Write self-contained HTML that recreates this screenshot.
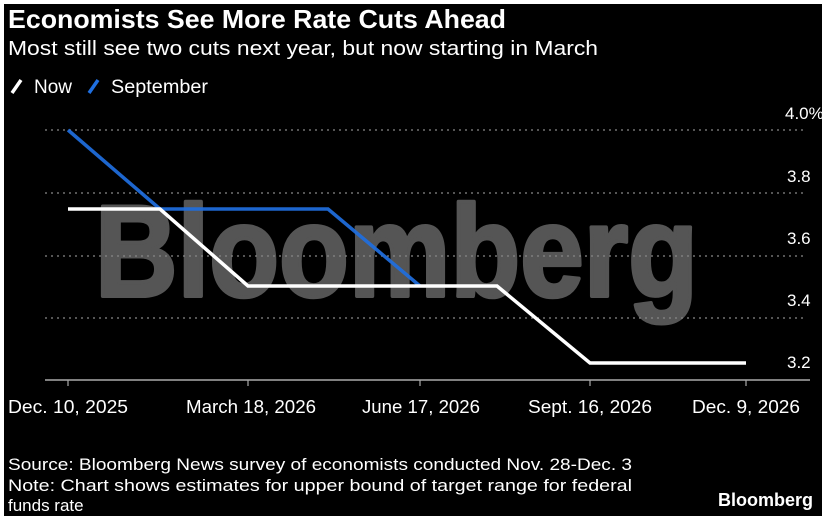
<!DOCTYPE html>
<html><head><meta charset="utf-8"><style>
html,body{margin:0;padding:0;background:#fff;width:832px;height:524px;overflow:hidden}
svg{display:block}
text{font-family:"Liberation Sans",sans-serif;fill:#fff}
</style></head><body>
<svg width="832" height="524" viewBox="0 0 832 524">
<rect x="4" y="4" width="818" height="512" fill="#000"/>
<text x="8" y="28" font-size="26" font-weight="bold" textLength="498" lengthAdjust="spacingAndGlyphs">Economists See More Rate Cuts Ahead</text>
<text x="8" y="55" font-size="20" textLength="590" lengthAdjust="spacingAndGlyphs">Most still see two cuts next year, but now starting in March</text>
<line x1="12" y1="93" x2="21" y2="80" stroke="#fff" stroke-width="3.5"/>
<text x="34" y="93" font-size="19" textLength="38" lengthAdjust="spacingAndGlyphs">Now</text>
<line x1="89" y1="93" x2="98" y2="80" stroke="#1f6fe0" stroke-width="3.5"/>
<text x="111" y="93" font-size="19" textLength="97" lengthAdjust="spacingAndGlyphs">September</text>
<text x="95" y="296" font-size="130" font-weight="bold" style="fill:#555" stroke="#555" stroke-width="4" stroke-linejoin="round" textLength="603" lengthAdjust="spacingAndGlyphs">Bloomberg</text>
<g stroke="#888" stroke-width="1.3" stroke-dasharray="2,4">
<line x1="45" y1="130" x2="805" y2="130"/>
<line x1="45" y1="193" x2="805" y2="193"/>
<line x1="45" y1="256" x2="805" y2="256"/>
<line x1="45" y1="318" x2="805" y2="318"/>
</g>
<line x1="45" y1="380" x2="810" y2="380" stroke="#aaa" stroke-width="1.5"/>
<g stroke="#aaa" stroke-width="1.2">
<line x1="68" y1="380" x2="68" y2="386"/><line x1="248" y1="380" x2="248" y2="386"/>
<line x1="420" y1="380" x2="420" y2="386"/><line x1="590" y1="380" x2="590" y2="386"/>
<line x1="746" y1="380" x2="746" y2="386"/>
</g>
<polyline points="68,130 160,209 328,209 420,286" fill="none" stroke="#1f6fe0" stroke-width="3.5" opacity="0.92"/>
<polyline points="68,209 160,209 248,286 497,286 590,363 746,363" fill="none" stroke="#fff" stroke-width="3.5"/>
<g font-size="17" text-anchor="start">
<text x="785" y="119">4.0%</text>
<text x="787" y="182">3.8</text>
<text x="787" y="244">3.6</text>
<text x="787" y="306">3.4</text>
<text x="787" y="368">3.2</text>
</g>
<g font-size="18">
<text x="8" y="413" textLength="120" lengthAdjust="spacingAndGlyphs">Dec. 10, 2025</text>
<text x="186" y="413" textLength="130" lengthAdjust="spacingAndGlyphs">March 18, 2026</text>
<text x="362" y="413" textLength="118" lengthAdjust="spacingAndGlyphs">June 17, 2026</text>
<text x="528" y="413" textLength="124" lengthAdjust="spacingAndGlyphs">Sept. 16, 2026</text>
<text x="692" y="413" textLength="108" lengthAdjust="spacingAndGlyphs">Dec. 9, 2026</text>
</g>
<text x="8" y="470" font-size="17" textLength="624" lengthAdjust="spacingAndGlyphs">Source: Bloomberg News survey of economists conducted Nov. 28-Dec. 3</text>
<text x="8" y="491" font-size="17" textLength="624" lengthAdjust="spacingAndGlyphs">Note: Chart shows estimates for upper bound of target range for federal</text>
<text x="8" y="511" font-size="17">funds rate</text>
<text x="813" y="506" font-size="18" font-weight="bold" text-anchor="end">Bloomberg</text>
</svg>
</body></html>
